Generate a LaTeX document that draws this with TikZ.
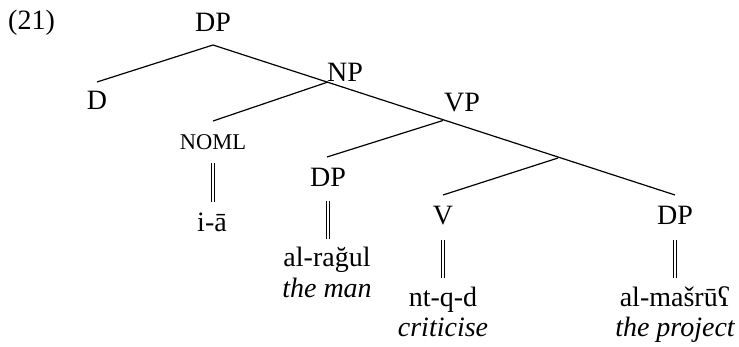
\documentclass[tikz,border=0pt]{standalone}
\usepackage{fontspec}
\setmainfont{Liberation Serif}
\begin{document}
\begin{tikzpicture}[x=1pt,y=-1pt,
  lbl/.style={anchor=base, inner sep=0pt, font=\fontsize{28}{32}\selectfont},
  feat/.style={anchor=base, inner sep=0pt, font=\fontsize{22.5}{26}\selectfont},
  gloss/.style={lbl, font=\fontsize{28}{32}\selectfont\itshape},
  branch/.style={line width=1.2pt},
  dbar/.style={draw, double, double distance=2.4pt, line width=0.75pt}]
\useasboundingbox (0,0) rectangle (739,347);

% example number
\node[lbl, anchor=base west] (num) at (8,30) {(21)};

% category labels
\node[lbl] (dp)   at (213,32)  {DP};
\node[lbl] (d)    at (97,110)  {D};
\node[lbl] (np)   at (345,82)  {NP};
\node[feat] (noml) at (213,150) {NOML};
\node[lbl] (vp)   at (462,112) {VP};
\node[lbl] (dpa)  at (328,187) {DP};
\node[lbl] (v)    at (443,225) {V};
\node[lbl] (dpb)  at (675,225) {DP};

% words and glosses
\node[lbl]   (ia)      at (212,232) {i-ā};
\node[lbl]   (ragul)   at (327,267) {al-rağul};
\node[gloss] (man)     at (327,298) {the man};
\node[lbl]   (ntqd)    at (443,307) {nt-q-d};
\node[gloss] (crit)    at (443,337) {criticise};
\node[lbl]   (masru)   at (675,307) {al-mašrūʕ};
\node[gloss] (project) at (675,337) {the project};

% branching points
\coordinate (top)  at (213,45);
\coordinate (dTop) at (97,82);
\coordinate (jN)   at (328,82);
\coordinate (nTop) at (213,121);
\coordinate (jV)   at (443,120.5);
\coordinate (aTop) at (327,157);
\coordinate (jB)   at (558,158);
\coordinate (vTop) at (443,195);
\coordinate (bTop) at (675,195);

% spine and left branches
\draw[branch] (dTop) -- (top) -- (bTop);
\draw[branch] (jN) -- (nTop);
\draw[branch] (jV) -- (aTop);
\draw[branch] (jB) -- (vTop);

% double bars down to the words
\coordinate (b1s) at (213,163); \coordinate (b1e) at (213,202);
\coordinate (b2s) at (328,201); \coordinate (b2e) at (328,239);
\coordinate (b3s) at (443,240); \coordinate (b3e) at (443,278);
\coordinate (b4s) at (675,240); \coordinate (b4e) at (675,278);
\draw[dbar] (b1s) -- (b1e);
\draw[dbar] (b2s) -- (b2e);
\draw[dbar] (b3s) -- (b3e);
\draw[dbar] (b4s) -- (b4e);
\end{tikzpicture}
\end{document}
